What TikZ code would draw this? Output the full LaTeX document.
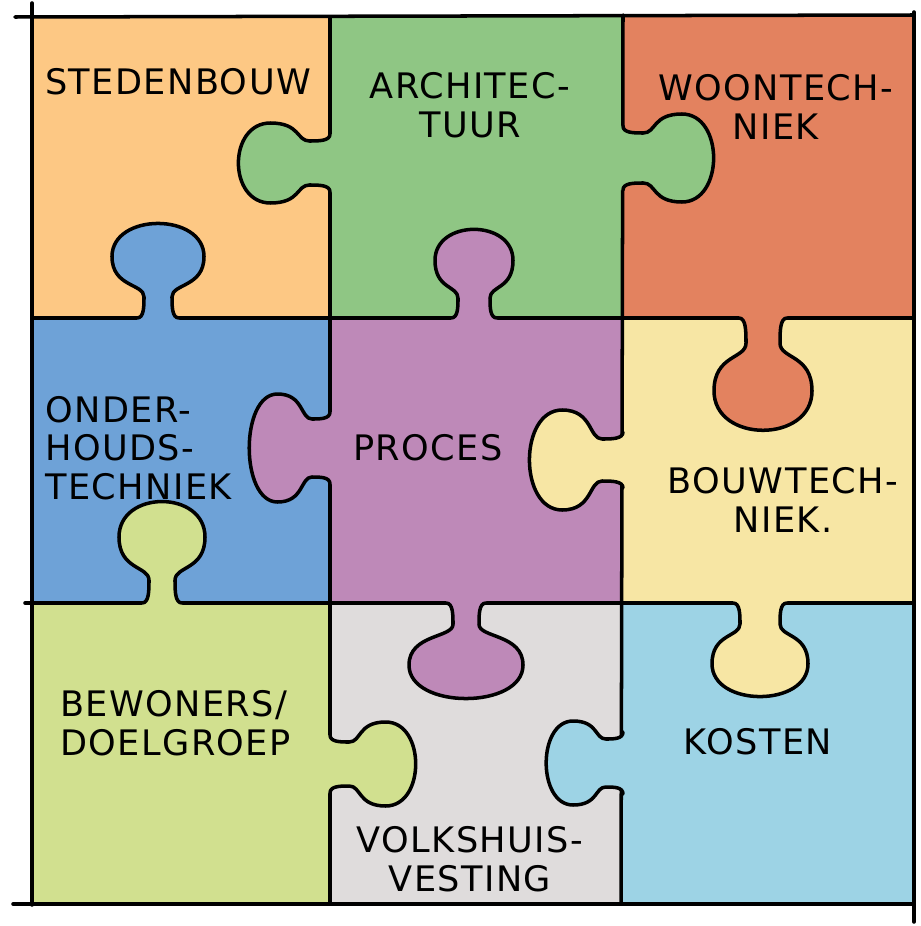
\documentclass[tikz,border=0pt]{standalone}
\usepackage{fontspec}
\setmainfont{DejaVu Sans}[LetterSpace=4]
\usetikzlibrary{positioning}

\definecolor{pzorange}{HTML}{FDC884}
\definecolor{pzgreen}{HTML}{8FC684}
\definecolor{pzred}{HTML}{E3825F}
\definecolor{pzblue}{HTML}{6EA2D7}
\definecolor{pzpurple}{HTML}{BE89B8}
\definecolor{pzyellow}{HTML}{F7E6A4}
\definecolor{pzlime}{HTML}{D1E08F}
\definecolor{pzgray}{HTML}{DFDCDC}
\definecolor{pzlblue}{HTML}{9DD3E5}

% knob: colour, x, y, angle, neck, bulb, length
\newcommand{\pzknob}[7]{%
  \begin{scope}[shift={(#2,#3)}, rotate=#4]
    \fill[#1] (-#5-6,-3) -- (-#5-6,0) .. controls (-#5+1,0) and (-#5+1,0.12*#7) .. (-#5+1,0.22*#7)
      .. controls (-#5+1,0.36*#7) and (-#6,0.32*#7) .. (-#6,0.64*#7)
      .. controls (-#6,1.1*#7) and (#6,1.1*#7) .. (#6,0.64*#7)
      .. controls (#6,0.32*#7) and (#5-1,0.36*#7) .. (#5-1,0.22*#7)
      .. controls (#5-1,0.12*#7) and (#5-1,0) .. (#5+6,0) -- (#5+6,-3) -- cycle;
    \draw[pzline] (-#5-6,0) .. controls (-#5+1,0) and (-#5+1,0.12*#7) .. (-#5+1,0.22*#7)
      .. controls (-#5+1,0.36*#7) and (-#6,0.32*#7) .. (-#6,0.64*#7)
      .. controls (-#6,1.1*#7) and (#6,1.1*#7) .. (#6,0.64*#7)
      .. controls (#6,0.32*#7) and (#5-1,0.36*#7) .. (#5-1,0.22*#7)
      .. controls (#5-1,0.12*#7) and (#5-1,0) .. (#5+6,0);
  \end{scope}}

\begin{document}
\begin{tikzpicture}[x=0.02cm, y=-0.02cm,
        pzline/.style={line width=2pt, line cap=round, line join=round},
        pzword/.style={font=\fontsize{20}{22}\selectfont, align=center, inner sep=0pt}
    ]
    \useasboundingbox (0,0) rectangle (920,926);
    % Cells
    \fill[pzorange] (32,17) rectangle (330,318);
    \fill[pzgreen] (330,17) rectangle (623,318);
    \fill[pzred] (623,17) rectangle (914,318);
    \fill[pzblue] (32,318) rectangle (330,603);
    \fill[pzpurple] (330,318) rectangle (623,603);
    \fill[pzyellow] (623,318) rectangle (914,603);
    \fill[pzlime] (32,603) rectangle (330,904);
    \fill[pzgray] (330,603) rectangle (623,904);
    \fill[pzlblue] (623,603) rectangle (914,904);
    % Grid
    \draw[pzline] (32,3) -- (32,905);
    \draw[pzline] (330,17) -- (330,904);
    \draw[pzline] (623,15) -- (621,904);
    \draw[pzline] (914,12) -- (914,922);
    \draw[pzline] (15,17) -- (914,15);
    \draw[pzline] (32,318) -- (914,318);
    \draw[pzline] (25,603) -- (914,603);
    \draw[pzline] (13,904) -- (914,904);
    % Knobs
    \pzknob{pzgreen}{330}{163}{-90}{23}{40}{93}
    \pzknob{pzblue}{158}{318}{180}{15}{46}{96}
    \pzknob{pzgreen}{623}{158}{90}{26}{44}{92}
    \pzknob{pzpurple}{474}{318}{180}{17}{39}{90}
    \pzknob{pzred}{763}{318}{0}{18}{49}{114}
    \pzknob{pzpurple}{330}{448}{-90}{30}{54}{82}
    \pzknob{pzyellow}{623}{460}{-90}{22}{50}{95}
    \pzknob{pzlime}{162}{603}{180}{14}{43}{103}
    \pzknob{pzpurple}{466}{603}{0}{14}{57}{97}
    \pzknob{pzlime}{330}{764}{90}{23}{42}{87}
    \pzknob{pzyellow}{760}{603}{0}{21}{48}{95}
    \pzknob{pzlblue}{623}{763}{-90}{25}{42}{78}
    % Labels
    \node[pzword] (steden) at (178,82) {STEDENBOUW};
    \node[pzword] (archi) at (470,105) {ARCHITEC-\\TUUR};
    \node[pzword] (woon) at (776,107) {WOONTECH-\\NIEK};
    \node[pzword, align=left, anchor=west] (onder) at (45,448) {ONDER-\\HOUDS-\\TECHNIEK};
    \node[pzword] (proces) at (428,448) {PROCES};
    \node[pzword] (bouw) at (783,500) {BOUWTECH-\\NIEK.};
    \node[pzword, align=left, anchor=west] (bewoners) at (60,723) {BEWONERS/\\DOELGROEP};
    \node[pzword] (volks) at (470,859) {VOLKSHUIS-\\VESTING};
    \node[pzword] (kosten) at (758,742) {KOSTEN};
\end{tikzpicture}
\end{document}
